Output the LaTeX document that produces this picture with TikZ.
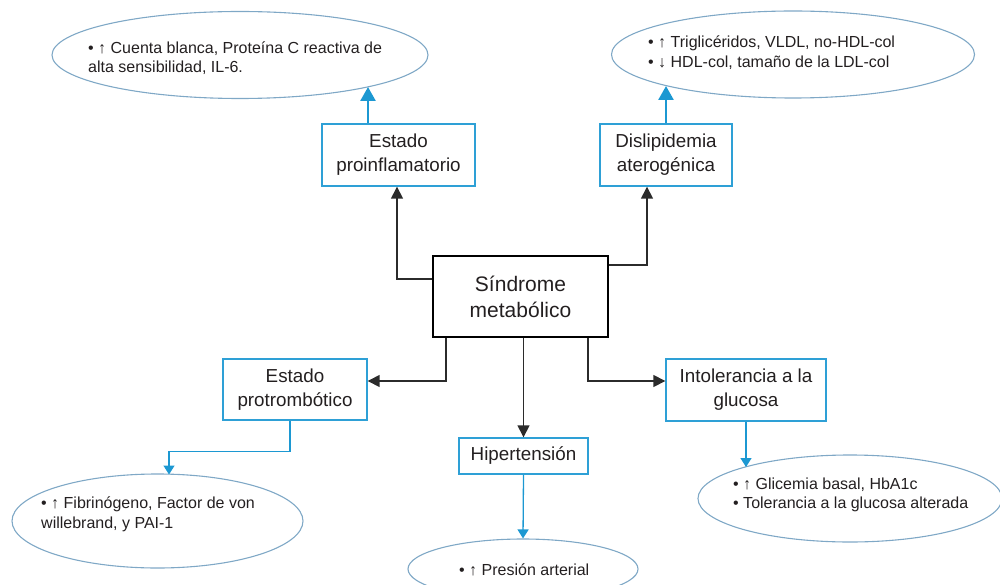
\documentclass[tikz,border=0pt]{standalone}
\usepackage{fontspec}
\setmainfont{Liberation Sans}
\usetikzlibrary{arrows.meta,shapes.geometric,calc}
\definecolor{boxblue}{HTML}{2EA0D6}
\definecolor{arrblue}{HTML}{1C98D2}
\definecolor{ellblue}{HTML}{7FA8C6}
\definecolor{txtcol}{HTML}{231F20}
\definecolor{blkcol}{HTML}{2B2B2B}
\begin{document}
\begin{tikzpicture}[x=1pt,y=-1pt,
  every node/.style={text=txtcol, inner sep=0pt},
  bluebox/.style={draw=boxblue, line width=1.4pt, align=center,
    font=\fontsize{18.8}{24}\selectfont},
  mainbox/.style={draw=black, line width=2.6pt, align=center,
    font=\fontsize{21}{26}\selectfont},
  ell/.style={draw=ellblue, line width=1.1pt, ellipse},
  elltext/.style={anchor=west, align=left, font=\fontsize{16}{19.5}\selectfont},
  blkarrow/.style={draw=blkcol, line width=1.5pt, -{Triangle[length=12pt,width=12pt]}},
  bluethick/.style={draw=arrblue, line width=2.6pt, -{Triangle[length=14pt,width=15pt]}},
  bluethin/.style={draw=arrblue, line width=1.3pt, -{Triangle[length=9pt,width=11pt]}}
]
\useasboundingbox (0,0) rectangle (1000,585);

% boxes
\node[mainbox, minimum width=175, minimum height=81] (sm) at (520.5,296.5) {Síndrome\\metabólico};
\node[bluebox, minimum width=153, minimum height=62] (proinf) at (398.5,155) {Estado\\proinflamatorio};
\node[bluebox, minimum width=132, minimum height=62] (disl) at (666,155) {Dislipidemia\\aterogénica};
\node[bluebox, minimum width=144, minimum height=61] (protr) at (295,389.5) {Estado\\protrombótico};
\node[bluebox, minimum width=160, minimum height=62] (inter) at (746,390) {Intolerancia a la\\glucosa};
\node[bluebox, minimum width=129, minimum height=36] (hiper) at (523.5,456) {Hipertensión};

% ellipses
\node[ell, minimum width=376, minimum height=87] (e1) at (240,55) {};
\node[ell, minimum width=363, minimum height=87] (e2) at (793,54.5) {};
\node[ell, minimum width=291, minimum height=94] (e3) at (157.5,521) {};
\node[ell, minimum width=304, minimum height=87] (e4) at (850,498.5) {};
\node[ell, minimum width=230, minimum height=60] (e5) at (523,569) {};

% ellipse texts
\node[elltext] (e1t) at (88,58) {• ↑ Cuenta blanca, Proteína C reactiva de\\alta sensibilidad, IL-6.};
\node[elltext] (e2t) at (648,52.5) {• ↑ Triglicéridos, VLDL, no-HDL-col\\• ↓ HDL-col, tamaño de la LDL-col};
\node[elltext] (e3t) at (41,514.5) {• ↑ Fibrinógeno, Factor de von\\willebrand, y PAI-1};
\node[elltext] (e4t) at (733,495) {• ↑ Glicemia basal, HbA1c\\• Tolerancia a la glucosa alterada};
\node[elltext] (e5t) at (459,570) {• ↑ Presión arterial};

% entry points on ellipses
\coordinate (e1in) at (368,87);
\coordinate (e2in) at (666,86);
\coordinate (e3in) at (169,474.5);
\coordinate (e4in) at (746,467);

% black connectors
\draw[blkarrow] ([yshift=17.5pt]sm.west) -| ([xshift=-1.5pt]proinf.south);
\draw[blkarrow] ([yshift=31.5pt]sm.east) -| ([xshift=-19pt]disl.south);
\draw[blkarrow] ([xshift=-74.5pt]sm.south) |- ([yshift=8.5pt]protr.east);
\draw[blkarrow] (sm.south -| hiper.north) -- (hiper.north);
\draw[blkarrow] ([xshift=67.5pt]sm.south) |- ([yshift=9pt]inter.west);

% blue connectors
\draw[bluethick] (proinf.north -| e1in) -- (e1in);
\draw[bluethick] (disl.north) -- (e2in);
\draw[bluethin] ([xshift=-5pt]protr.south) -- ++(0,31) -| (e3in);
\draw[bluethin] (hiper.south) -- (e5.north);
\draw[bluethin] (inter.south) -- (e4in);
\end{tikzpicture}
\end{document}
